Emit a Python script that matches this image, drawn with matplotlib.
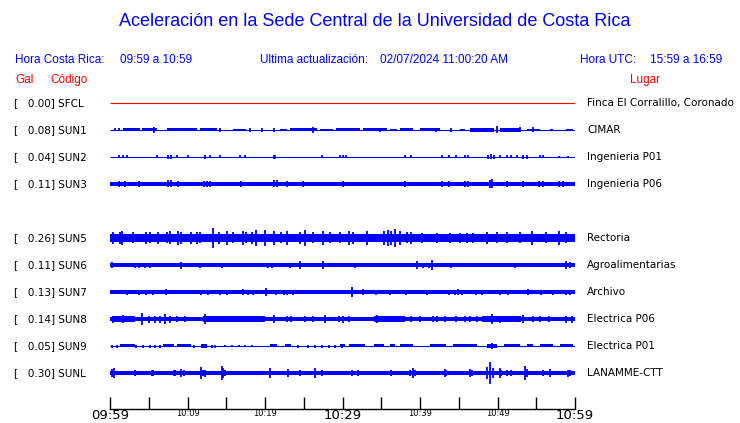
import matplotlib
matplotlib.use("Agg")
import matplotlib.pyplot as plt
import matplotlib.transforms as mtransforms

# ---- datos -------------------------------------------------------------
titulo = "Aceleración en la Sede Central de la Universidad de Costa Rica"
hora_cr = "09:59 a 10:59"
hora_utc = "15:59 a 16:59"
actualizacion = "02/07/2024 11:00:20 AM"

codigos = ["SFCL", "SUN1", "SUN2", "SUN3", "SUN5", "SUN6", "SUN7", "SUN8", "SUN9", "SUNL"]
gal = [0.00, 0.08, 0.04, 0.11, 0.26, 0.11, 0.13, 0.14, 0.05, 0.30]
lugares = ["Finca El Corralillo, Coronado", "CIMAR", "Ingenieria P01", "Ingenieria P06",
           "Rectoria", "Agroalimentarias", "Archivo", "Electrica P06", "Electrica P01",
           "LANAMME-CTT"]

# minutos desde 09:59, etiquetas de tiempo
minutos_ticks = [0, 5, 10, 15, 20, 25, 30, 35, 40, 45, 50, 55, 60]
etiquetas_ticks = ["09:59", "", "10:09", "", "10:19", "", "10:29", "", "10:39", "", "10:49", "", "10:59"]

# amplitud base de cada traza (px, semi-ancho)
base = [0.0, 0.5, 0.5, 1.8, 3.7, 1.8, 1.8, 2.1, 0.5, 1.8]

# tramos con mas ruido: (inicio, fin, semi-ancho)
tramos_sun1 = [(1.7, 3.9, 1.5), (4.1, 6.0, 1.5), (7.3, 11.2, 1.5), (11.6, 13.8, 1.5),
               (15.9, 17.6, 1.3), (21.9, 22.8, 1.3), (23.2, 26.7, 1.5), (27.1, 28.8, 1.3),
               (29.2, 32.3, 1.5), (32.7, 35.7, 1.5), (36.1, 37.0, 1.3), (37.4, 39.1, 1.5),
               (40.0, 42.6, 1.5), (45.2, 45.8, 1.3), (46.5, 49.5, 1.6), (50.3, 52.9, 1.6),
               (53.8, 55.5, 1.4), (56.8, 57.2, 1.3), (58.9, 59.8, 1.3)]
tramos_sun5 = [(0.0, 30.0, 4.3), (40.0, 47.0, 3.4)]
tramos_sun8 = [(0.3, 3.2, 2.8), (12.0, 20.0, 2.6), (34.0, 38.0, 2.5), (48.0, 53.0, 2.5)]
tramos_sun9 = [(1.3, 3.2, 1.5), (6.9, 8.2, 1.5), (8.6, 10.5, 1.5), (11.8, 12.5, 1.8),
               (20.6, 21.5, 1.5), (22.6, 23.4, 1.5), (29.7, 30.3, 1.5), (30.8, 32.9, 1.5),
               (34.0, 35.3, 1.5), (36.1, 36.8, 1.5), (37.4, 39.1, 1.5), (41.3, 43.4, 1.5),
               (44.3, 47.3, 1.5), (48.6, 49.9, 1.7), (50.8, 52.9, 1.5), (53.8, 54.6, 1.5),
               (55.5, 57.2, 1.5), (58.1, 59.8, 1.5)]

# picos: (minuto, semi-amplitud px)
picos_sun1 = [(0.6, 1.5), (1.1, 1.5), (5.7, 3.0), (14.2, 2.0), (18.1, 2.0), (19.6, 2.2),
              (21.1, 2.0), (26.2, 3.0), (34.8, 2.0), (42.0, 2.0), (44.0, 1.8), (49.9, 3.5),
              (52.9, 2.5), (54.6, 2.5)]
picos_sun2 = [(1.1, 1.5), (1.7, 1.5), (2.2, 1.5), (6.0, 1.5), (7.5, 2.0), (7.9, 2.0),
              (8.6, 1.5), (10.1, 1.5), (12.3, 2.0), (12.9, 1.5), (14.2, 1.5), (16.8, 1.5),
              (17.4, 1.5), (21.1, 2.0), (21.3, 2.0), (27.3, 1.5), (29.7, 1.5), (30.1, 1.5),
              (30.5, 1.5), (38.1, 1.5), (38.9, 1.5), (42.8, 1.5), (43.7, 1.5), (44.7, 1.5),
              (45.8, 1.5), (46.2, 1.5), (48.8, 2.3), (49.2, 2.5), (49.5, 2.0), (50.3, 1.5),
              (51.2, 1.5), (51.8, 1.5), (52.5, 1.5), (53.3, 2.0), (53.8, 2.0), (55.5, 1.5),
              (55.9, 1.5), (57.9, 1.0), (59.1, 1.0)]
picos_sun3 = [(1.1, 3.0), (1.9, 3.0), (3.7, 3.0), (7.5, 3.5), (7.9, 3.5), (8.8, 3.0),
              (12.1, 3.0), (12.5, 3.0), (12.9, 3.0), (16.9, 3.0), (21.1, 3.5), (21.5, 3.5),
              (22.8, 2.8), (24.9, 2.8), (30.1, 2.8), (38.1, 3.0), (42.8, 3.0), (43.7, 3.0),
              (45.8, 3.0), (46.2, 3.0), (49.0, 4.0), (49.3, 4.5), (51.2, 3.0), (53.3, 3.0),
              (55.3, 3.0), (55.9, 3.0), (57.9, 2.8), (58.5, 2.8)]
picos_sun5 = [(0.4, 6.0), (1.3, 6.0), (1.5, 7.0), (3.0, 5.5), (4.7, 6.0), (5.2, 5.5),
              (6.2, 6.0), (7.3, 5.5), (7.7, 6.5), (8.8, 7.0), (9.2, 6.0), (10.5, 6.0),
              (11.2, 6.0), (11.6, 5.5), (13.3, 10.0), (14.0, 6.0), (15.1, 7.0), (15.9, 5.5),
              (17.2, 7.0), (17.6, 5.5), (18.3, 6.0), (18.9, 8.0), (20.0, 8.0), (21.1, 7.0),
              (22.1, 5.5), (22.8, 7.0), (24.5, 6.0), (25.2, 8.0), (26.2, 5.5), (27.5, 7.0),
              (28.4, 5.5), (29.7, 5.5), (30.8, 7.0), (31.4, 6.0), (33.1, 7.0), (35.3, 7.0),
              (35.9, 8.0), (36.3, 7.0), (36.8, 9.0), (37.4, 7.0), (38.3, 5.5), (38.9, 6.0),
              (40.2, 5.0), (42.2, 5.0), (43.9, 5.0), (45.2, 5.0), (46.0, 5.0), (46.9, 5.0),
              (48.6, 6.0), (49.9, 5.5), (51.2, 5.5), (52.9, 5.5), (54.4, 7.0), (56.3, 5.5),
              (57.9, 7.0), (58.9, 5.5)]
picos_sun6 = [(0.2, 3.0), (3.2, 2.5), (3.8, 2.5), (4.5, 2.5), (5.1, 2.5), (6.5, 2.0),
              (9.2, 3.5), (11.6, 2.5), (14.4, 2.5), (16.4, 2.0), (20.4, 2.5), (20.9, 2.5),
              (22.6, 2.0), (23.2, 2.5), (24.5, 4.0), (27.5, 4.0), (31.6, 2.5), (35.1, 2.0),
              (39.6, 4.0), (40.4, 2.5), (41.1, 2.5), (41.5, 4.5), (44.0, 2.5), (45.2, 2.0),
              (46.7, 2.0), (52.3, 2.5), (53.1, 2.0), (56.6, 2.0), (58.9, 4.0), (59.3, 3.0)]
picos_sun7 = [(2.2, 2.5), (3.7, 2.5), (4.7, 2.5), (5.5, 2.5), (7.2, 3.0), (11.7, 2.5),
              (12.7, 2.5), (14.2, 2.5), (15.1, 2.5), (17.1, 3.0), (17.8, 2.5), (18.4, 2.5),
              (20.1, 4.0), (21.4, 2.5), (22.4, 2.5), (22.9, 2.5), (23.6, 2.5), (31.2, 5.0),
              (32.6, 3.0), (34.3, 2.5), (36.1, 2.5), (38.2, 2.5), (40.9, 2.5), (43.7, 2.5),
              (44.5, 2.5), (44.9, 3.0), (45.4, 2.5), (47.2, 2.5), (48.0, 2.5), (50.3, 2.5),
              (51.3, 2.5), (53.9, 3.0), (55.6, 2.5), (57.1, 2.5), (58.9, 2.5), (59.4, 2.5)]
picos_sun8 = [(0.4, 3.5), (1.7, 4.0), (2.8, 3.0), (4.1, 6.0), (5.0, 3.5), (5.8, 3.5),
              (6.5, 3.5), (7.1, 5.0), (7.7, 3.5), (8.6, 3.0), (9.7, 3.0), (12.3, 5.0),
              (13.1, 3.0), (14.2, 3.0), (14.8, 3.0), (15.5, 3.0), (16.1, 3.0), (17.4, 3.0),
              (18.3, 3.0), (19.6, 3.0), (21.1, 4.0), (22.8, 3.0), (23.4, 3.0), (25.2, 3.0),
              (26.2, 3.0), (27.7, 4.0), (29.5, 3.0), (30.1, 3.5), (30.8, 3.0), (34.4, 4.0),
              (35.3, 3.0), (36.6, 3.0), (37.4, 3.0), (38.9, 3.0), (40.0, 3.0), (41.7, 3.0),
              (42.2, 3.0), (43.2, 3.0), (44.7, 3.0), (45.8, 3.0), (46.5, 3.0), (47.3, 3.0),
              (48.2, 3.0), (49.3, 5.0), (50.3, 3.5), (51.2, 3.0), (52.0, 3.0), (53.3, 4.0),
              (54.6, 3.0), (55.5, 3.0), (56.6, 3.0), (58.9, 3.5), (59.6, 3.5)]
picos_sun9 = [(0.2, 1.5), (0.9, 1.5), (3.4, 1.5), (4.3, 1.5), (5.2, 1.5), (5.8, 1.5),
              (6.5, 1.5), (10.8, 1.5), (13.1, 1.5), (13.6, 1.5), (14.8, 1.3), (15.7, 1.3),
              (16.6, 1.3), (17.4, 1.3), (18.3, 1.3), (24.3, 1.5), (25.6, 1.5), (26.5, 1.5),
              (27.3, 1.5), (28.2, 1.5), (29.0, 1.5), (29.9, 1.5), (49.3, 2.5)]
picos_sunl = [(0.3, 4.0), (0.5, 5.0), (3.2, 2.5), (5.4, 2.5), (5.6, 2.5), (8.2, 2.5),
              (8.4, 2.5), (9.2, 4.0), (9.5, 3.0), (11.7, 6.0), (12.0, 3.0), (12.3, 3.5),
              (14.4, 7.0), (14.6, 5.0), (14.8, 3.0), (20.6, 5.0), (23.0, 4.0), (24.5, 2.5),
              (26.4, 5.0), (27.3, 2.5), (31.2, 2.5), (32.0, 2.5), (36.3, 2.5), (38.7, 3.0),
              (39.1, 5.0), (39.4, 3.0), (43.2, 4.0), (43.4, 3.0), (46.5, 4.0), (46.7, 3.0),
              (48.6, 6.0), (49.0, 11.0), (49.4, 5.0), (50.3, 5.0), (50.5, 3.0), (51.2, 2.5),
              (51.8, 2.5), (53.6, 7.0), (53.8, 4.0), (55.9, 3.0), (56.8, 4.0), (59.1, 3.5),
              (59.4, 3.0)]

tramos = {"SUN1": tramos_sun1, "SUN5": tramos_sun5, "SUN8": tramos_sun8, "SUN9": tramos_sun9}
picos = {"SUN1": picos_sun1, "SUN2": picos_sun2, "SUN3": picos_sun3, "SUN5": picos_sun5,
         "SUN6": picos_sun6, "SUN7": picos_sun7, "SUN8": picos_sun8, "SUN9": picos_sun9,
         "SUNL": picos_sunl}

# ---- figura ------------------------------------------------------------
W, H = 740, 423
ROW_PX = 27.0
azul = "#0000ff"
rojo = "#ff0000"

fig = plt.figure(figsize=(W / 100, H / 100), dpi=100)


def fx(x):
    return x / W


def fy(y):
    return 1 - y / H


# ejes de las trazas: x de 110 a 575 px, y de 90 a 409 px
ax = fig.add_axes([fx(110), fy(409), fx(575) - fx(110), fy(90) - fy(409)])
ax.set_xlim(0, 60)
ax.set_ylim((409 - 103) / ROW_PX, (90 - 103) / ROW_PX)

for i, code in enumerate(codigos):
    fila = i + (1 if i > 3 else 0)
    color = rojo if code == "SFCL" else azul
    ax.plot([0, 60], [fila, fila], color=color, lw=0.8, solid_capstyle="butt")
    if base[i] > 0.5:
        b = base[i] / ROW_PX
        ax.fill_between([0, 60], fila - b, fila + b, color=color, lw=0)
    for t0, t1, a in tramos.get(code, []):
        a = a / ROW_PX
        ax.fill_between([t0, t1], fila - a, fila + a, color=color, lw=0)
    for t, a in picos.get(code, []):
        a = a / ROW_PX
        ax.vlines(t, fila - a, fila + a, color=color, lw=1.3)

for s in ["top", "left", "right"]:
    ax.spines[s].set_visible(False)
ax.spines["bottom"].set_linewidth(1.0)
ax.set_yticks([])
ax.set_xticks(minutos_ticks)
ax.set_xticklabels(etiquetas_ticks)
ax.tick_params(axis="x", direction="in", length=9, width=1.0, pad=0)
for k, lab in enumerate(ax.get_xticklabels()):
    grande = minutos_ticks[k] in (0, 30, 60)
    lab.set_fontsize(9.5 if grande else 6)
    lab.set_family("DejaVu Sans")

# etiquetas de cada fila
tr = mtransforms.blended_transform_factory(fig.transFigure, ax.transData)
for i, code in enumerate(codigos):
    fila = i + (1 if i > 3 else 0)
    fig.text(fx(14), fila, "[   %.2f] %s" % (gal[i], code), transform=tr,
             fontsize=7.5, va="center", ha="left", family="DejaVu Sans")
    fig.text(fx(587), fila, lugares[i], transform=tr,
             fontsize=7.5, va="center", ha="left", family="DejaVu Sans")

# cabecera
fig.text(fx(375), fy(22), titulo, color=azul, fontsize=13, ha="center", va="center",
         family="Liberation Sans")
hdr = dict(color=azul, fontsize=8.5, va="center", ha="left", family="Liberation Sans")
fig.text(fx(15), fy(60), "Hora Costa Rica:", **hdr)
fig.text(fx(120), fy(60), hora_cr, **hdr)
fig.text(fx(260), fy(60), "Ultima actualización:", **hdr)
fig.text(fx(380), fy(60), actualizacion, **hdr)
fig.text(fx(580), fy(60), "Hora UTC:", **hdr)
fig.text(fx(650), fy(60), hora_utc, **hdr)

sub = dict(color=rojo, fontsize=8.5, va="center", ha="left", family="Liberation Sans")
fig.text(fx(15), fy(80), "Gal", **sub)
fig.text(fx(50), fy(80), "Código", **sub)
fig.text(fx(630), fy(80), "Lugar", **sub)

fig.savefig("out.png", dpi=100, facecolor="white")
